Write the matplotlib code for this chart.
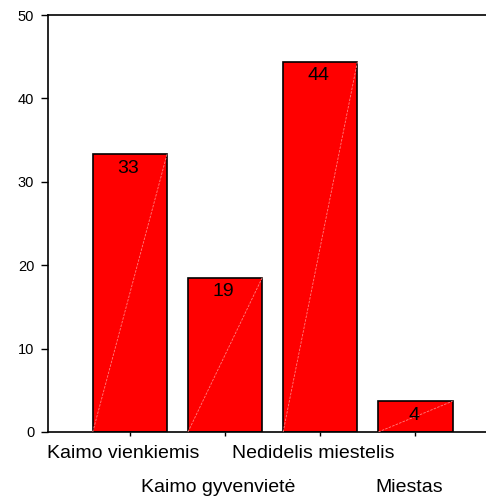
import numpy as np
import matplotlib
matplotlib.use("Agg")
import matplotlib.pyplot as plt
from matplotlib import transforms

plt.rcParams['font.family'] = ['Liberation Sans', 'DejaVu Sans']

categories = ['Kaimo vienkiemis', 'Kaimo gyvenvietė', 'Nedidelis miestelis', 'Miestas']
percent = [33.3, 18.5, 44.4, 3.7]
labels = ['33', '19', '44', '4']
yticks = [0, 10, 20, 30, 40, 50]

fig = plt.figure(figsize=(4.86, 4.97), dpi=100)
ax = fig.add_axes([0.0988, 0.1308, 0.95, 0.839])

x = np.arange(len(categories))
w = 0.78
bars = ax.bar(x, percent, width=w, color='#ff0000', edgecolor='black', linewidth=1.2, zorder=2)

# thin light diagonal across each bar, SPSS style
for b in bars:
    x0, y0 = b.get_x(), b.get_y()
    ax.plot([x0, x0 + b.get_width()], [y0, y0 + b.get_height()],
            color='#ff8080', lw=0.6, ls=(0, (3, 1.5)), zorder=3)

for xi, v, lab in zip(x, percent, labels):
    ax.annotate(lab, (xi, v), xytext=(-1, -4), textcoords='offset points',
                ha='center', va='top', fontsize=14, zorder=4)

ax.set_xlim(-0.86, 3.99)
ax.set_ylim(0, 50)
ax.set_yticks(yticks)
ax.tick_params(axis='y', direction='out', length=5, width=1, labelsize=10.5, pad=5)
ax.set_xticks(x)
ax.set_xticklabels([])
ax.tick_params(axis='x', direction='out', length=3, width=1)

for s in ['left', 'top', 'bottom']:
    ax.spines[s].set_linewidth(1.2)
ax.spines['right'].set_visible(False)

trans = transforms.blended_transform_factory(ax.transData, ax.transAxes)
for i, c in enumerate(categories):
    yy = -0.062 if i % 2 == 0 else -0.143
    ax.text(x[i] - 0.07, yy, c, transform=trans, ha='center', va='baseline', fontsize=14)

fig.savefig('out.png', dpi=100)
